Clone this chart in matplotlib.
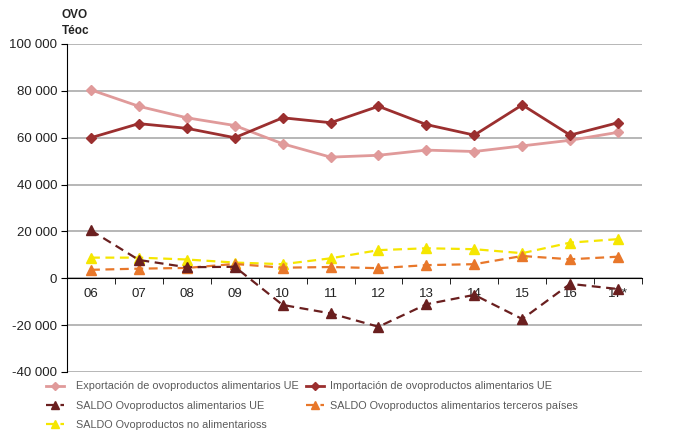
import matplotlib
matplotlib.use("Agg")
import matplotlib.pyplot as plt
from matplotlib.ticker import FixedLocator, FuncFormatter

# ── data ──
YEARS = ["06", "07", "08", "09", "10", "11", "12", "13", "14", "15", "16", "17*"]
EXPORT_UE = [80400, 73400, 68500, 65200, 57400, 51700, 52500, 54700, 54100, 56500, 58900, 62300]
IMPORT_UE = [60000, 66000, 64000, 60000, 68500, 66400, 73400, 65600, 61100, 74000, 61100, 66400]
SALDO_UE = [20400, 7800, 4700, 4900, -11400, -15000, -20700, -11100, -7100, -17400, -2400, -4600]
SALDO_TERCEROS = [3600, 4100, 4400, 6100, 4500, 4800, 4300, 5600, 6000, 9500, 8100, 9200]
SALDO_NO_ALIM = [8800, 8800, 8000, 6700, 6000, 8500, 12000, 12800, 12400, 10700, 15200, 16700]

LABELS = [
    "Exportación de ovoproductos alimentarios UE",
    "Importación de ovoproductos alimentarios UE",
    "SALDO Ovoproductos alimentarios UE",
    "SALDO Ovoproductos alimentarios terceros países",
    "SALDO Ovoproductos no alimentarioss",
]

plt.rcParams["font.family"] = ["Liberation Sans", "DejaVu Sans"]

fig = plt.figure(figsize=(6.73, 4.30), dpi=100)
ax = fig.add_axes([0.0996, 0.135, 0.954 - 0.0996, 0.8977 - 0.135])

DASH = (0, (4, 2.5))
x = list(range(len(YEARS)))
h_exp, = ax.plot(x, EXPORT_UE, color="#e09a9a", lw=2, marker="D", ms=5, zorder=4)
h_imp, = ax.plot(x, IMPORT_UE, color="#9b2f2f", lw=2, marker="D", ms=5, zorder=4)
h_sue, = ax.plot(x, SALDO_UE, color="#6a1f1f", lw=1.6, ls=DASH, marker="^", ms=7, zorder=5)
h_ter, = ax.plot(x, SALDO_TERCEROS, color="#e8772a", lw=1.6, ls=DASH, marker="^", ms=7, zorder=4)
h_noa, = ax.plot(x, SALDO_NO_ALIM, color="#f5e600", lw=1.6, ls=DASH, marker="^", ms=7, zorder=3)

ax.set_xlim(-0.5, len(YEARS) - 0.5)
ax.set_ylim(-40000, 100000)
ax.set_yticks(range(-40000, 100001, 20000))
ax.yaxis.set_major_formatter(FuncFormatter(lambda v, p: f"{int(v):,}".replace(",", " ")))
ax.grid(axis="y", color="#aaaaaa", lw=1.2, zorder=0)

# x axis sits on zero; ticks between categories
ax.spines["bottom"].set_position(("data", 0))
ax.spines["bottom"].set_color("black")
ax.spines["left"].set_color("black")
ax.spines["top"].set_visible(False)
ax.spines["right"].set_visible(False)
ax.set_xticks(x)
ax.set_xticklabels(YEARS)
ax.xaxis.set_minor_locator(FixedLocator([i - 0.5 for i in range(len(YEARS) + 1)]))
ax.tick_params(axis="x", which="major", length=0, pad=7, labelsize=9.5, labelcolor="#222222")
ax.tick_params(axis="x", which="minor", length=4, direction="out", color="black")
ax.tick_params(axis="y", length=4, direction="out", pad=3, labelsize=9.5,
               color="black", labelcolor="#222222")

fig.text(0.092, 0.965, "OVO", fontsize=8.5, fontweight="bold", va="center", color="#222222")
fig.text(0.092, 0.928, "Téoc", fontsize=8.5, fontweight="bold", va="center", color="#222222")

# legend: two hand-placed columns
leg_kw = dict(loc="upper left", frameon=False, handlelength=1.6, labelspacing=0.85,
              borderaxespad=0, borderpad=0, prop={"size": 7.8}, labelcolor="#5a5a5a",
              markerscale=0.75)
leg1 = fig.legend([h_exp, h_sue, h_noa], [LABELS[0], LABELS[2], LABELS[4]],
                  bbox_to_anchor=(0.069, 0.113), handletextpad=1.1, **leg_kw)
leg2 = fig.legend([h_imp, h_ter], [LABELS[1], LABELS[3]],
                  bbox_to_anchor=(0.455, 0.113), handletextpad=0.6, **leg_kw)

fig.savefig("out.png", dpi=100)
